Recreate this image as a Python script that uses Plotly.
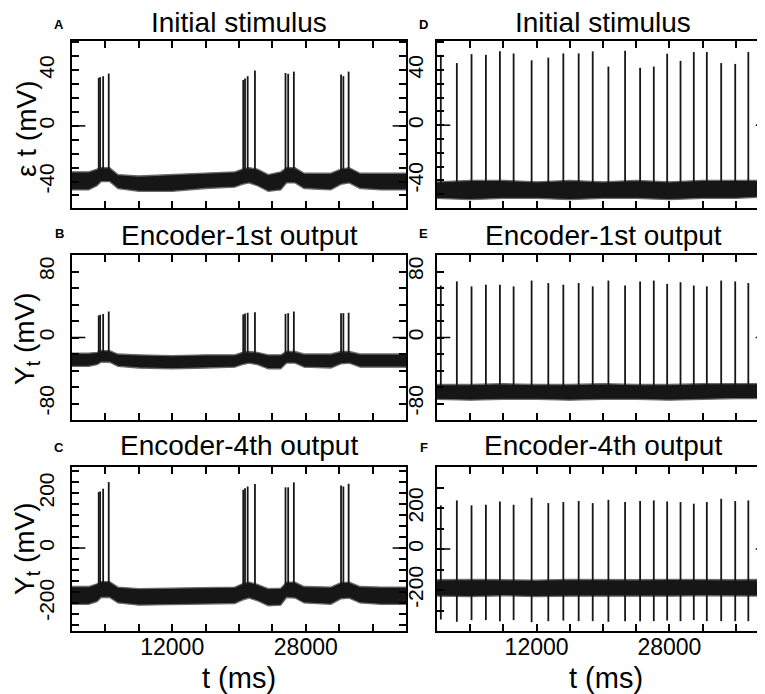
import plotly.graph_objects as go

# ---------------- data ----------------
t_env_left = [0, 2000, 3000, 3500, 4500, 5500, 8000, 12000, 16000, 19500, 20400, 21200,
              22200, 23500, 25000, 25700, 26700, 27800, 31000, 32200, 33200, 34500, 37000, 40000]
a_upper = [-33, -33, -31, -30, -30, -35, -36, -35, -34, -33, -31, -30,
           -31, -35, -33, -30, -30, -34, -34, -31, -30, -34, -34, -34]
a_lower = [-46, -46, -43, -40, -40, -45, -47, -47, -45, -44, -42, -41,
           -43, -47, -46, -41, -41, -45, -46, -42, -41, -45, -46, -46]
b_upper = [-19, -19, -18, -16, -16, -20, -21, -22, -21, -21, -18, -17,
           -18, -21, -21, -17, -17, -20, -20, -17, -17, -20, -20, -20]
b_lower = [-35, -35, -33, -30, -30, -35, -37, -38, -37, -36, -33, -31,
           -33, -38, -38, -31, -31, -36, -37, -32, -31, -36, -36, -36]
c_upper = [-140, -140, -130, -122, -122, -142, -148, -146, -144, -142, -130, -124,
           -132, -148, -146, -124, -124, -140, -142, -126, -124, -140, -142, -142]
c_lower = [-205, -205, -195, -180, -180, -200, -208, -206, -204, -202, -190, -182,
           -192, -210, -208, -180, -182, -200, -205, -185, -182, -200, -205, -205]

t_env_right = [0, 4000, 8000, 12000, 16000, 20000, 24000, 28000, 32000, 36000, 40000]
d_upper = [-41, -40, -40, -41, -40, -41, -40, -41, -40, -40, -40]
d_lower = [-53, -54, -53, -53, -54, -53, -53, -54, -53, -53, -52]
e_upper = [-57, -57, -56, -57, -57, -56, -57, -57, -56, -56, -56]
e_lower = [-75, -76, -75, -75, -76, -75, -75, -76, -75, -74, -74]
f_upper = [-150, -148, -150, -152, -148, -150, -150, -148, -150, -150, -148]
f_lower = [-230, -232, -228, -232, -230, -230, -232, -230, -228, -230, -230]

spike_t_left = [3200, 3370, 3730, 4400, 20510, 20720, 21040, 21910,
                25570, 25890, 26570, 32220, 32500, 33130]
a_peaks = [34.5, 35, 35.7, 37.6, 33, 34, 35.7, 39.8, 38, 37.4, 39, 37, 35.7, 39]
b_peaks = [26.7, 27.5, 28.5, 31.5, 28, 29, 30, 30.7, 28.7, 29.5, 31.5, 29.5, 29.5, 30]
c_peaks = [204, 206, 216, 240, 212, 218, 224, 233, 221, 221, 239, 228, 224, 234]

spike_t_right = [460, 2390, 4160, 5890, 7580, 9230, 11400, 13410, 15220, 17070, 18760, 20650,
                 22660, 24470, 26120, 27730, 29340, 30940, 32510, 34240, 35930, 37510, 39500]
d_peaks = [51, 45, 51.5, 51, 53.5, 52, 47, 49, 52, 52, 53.5, 42.5,
           54, 41.7, 42.5, 51.8, 46.6, 53, 53, 45, 44.4, 53, 51]
e_peaks = [63, 68, 62, 64, 64, 62, 69, 66, 64, 66, 62, 69,
           63, 68, 69, 65, 67, 63, 62, 69, 68, 66, 63]
f_peaks = [213, 237, 213, 216, 232, 216, 250, 224, 229, 234, 224, 240,
           229, 234, 237, 232, 229, 221, 229, 245, 234, 237, 210]
f_troughs = [-344, -355, -347, -347, -352, -347, -357, -352, -349, -352, -352, -355,
             -352, -352, -352, -349, -352, -347, -352, -352, -352, -352, -344]

x_tickvals = [4000, 8000, 12000, 16000, 20000, 24000, 28000, 32000, 36000]
x_ticktext = ["", "", "12000", "", "", "", "28000", "", ""]

titles = ["Initial stimulus", "Encoder-1st output", "Encoder-4th output"]
letters_left = ["A", "B", "C"]
letters_right = ["D", "E", "F"]

# ---------------- figure ----------------
W, H = 765, 694
FONT = "Arial, Liberation Sans, sans-serif"
INK = "#161616"

xdom_left = [64 / W, 398 / W]
xdom_right = [429 / W, 761 / W]
ydoms = [[1 - 200 / H, 1 - 33 / H], [1 - 412 / H, 1 - 247 / H], [1 - 623 / H, 1 - 459 / H]]

fig = go.Figure()

panels = [
    (1, 0, 0, t_env_left, a_upper, a_lower, spike_t_left, a_peaks, -38, [-59, 61], [-40, 0, 40], 10),
    (2, 0, 1, t_env_left, b_upper, b_lower, spike_t_left, b_peaks, -26, [-100, 100], [-80, 0, 80], 20),
    (3, 0, 2, t_env_left, c_upper, c_lower, spike_t_left, c_peaks, -160, [-302, 295], [-200, 0, 200], 40),
    (4, 1, 0, t_env_right, d_upper, d_lower, spike_t_right, d_peaks, -47, [-60, 61], [-40, 0, 40], 10),
    (5, 1, 1, t_env_right, e_upper, e_lower, spike_t_right, e_peaks, -66, [-100, 100], [-80, 0, 80], 20),
    (6, 1, 2, t_env_right, f_upper, f_lower, spike_t_right, f_peaks, f_troughs, [-400, 400], [-200, 0, 200], 100),
]

shapes = []
annotations = []
for idx, col, row, tenv, up, lo, st, pk, base, yr, major, mstep in panels:
    xa = "x" if idx == 1 else f"x{idx}"
    ya = "y" if idx == 1 else f"y{idx}"
    fig.add_trace(go.Scatter(x=tenv, y=up, xaxis=xa, yaxis=ya, mode="lines",
                             line=dict(color="#6a6a6a", width=1.3), hoverinfo="skip", showlegend=False))
    fig.add_trace(go.Scatter(x=tenv, y=lo, xaxis=xa, yaxis=ya, mode="lines", fill="tonexty",
                             fillcolor=INK, line=dict(color="#6a6a6a", width=1.3),
                             hoverinfo="skip", showlegend=False))
    xs, ys = [], []
    for i, t in enumerate(st):
        b0 = base[i] if isinstance(base, list) else base
        xs += [t, t, None]
        ys += [b0, pk[i], None]
    fig.add_trace(go.Scatter(x=xs, y=ys, xaxis=xa, yaxis=ya, mode="lines",
                             line=dict(color=INK, width=1.8), hoverinfo="skip", showlegend=False))

    xkey = "xaxis" if idx == 1 else f"xaxis{idx}"
    ykey = "yaxis" if idx == 1 else f"yaxis{idx}"
    minor_vals = [v for v in range(-1000, 1001, mstep) if yr[0] < v < yr[1] and v not in major]
    fig.update_layout({
        xkey: dict(domain=xdom_left if col == 0 else xdom_right, anchor=ya, range=[0, 40000],
                   tickvals=x_tickvals, ticktext=x_ticktext, showticklabels=(row == 2),
                   ticks="inside", ticklen=7, tickwidth=1.5, tickcolor="black",
                   ticklabelstandoff=-6,
                   showline=True, linecolor="black", linewidth=2, mirror="ticks",
                   showgrid=False, zeroline=False,
                   tickfont=dict(family=FONT, size=23, color="black")),
        ykey: dict(domain=ydoms[row], anchor=xa, range=yr,
                   tickvals=major, ticktext=[str(v) for v in major], tickangle=-90,
                   ticks="inside", ticklen=7, tickwidth=1.5, tickcolor="black",
                   ticklabelstandoff=8 if col == 0 else 4,
                   minor=dict(tickvals=minor_vals, ticks="inside", ticklen=7,
                              tickwidth=1.5, tickcolor="black"),
                   showline=True, linecolor="black", linewidth=2, mirror="ticks",
                   showgrid=False, zeroline=False,
                   tickfont=dict(family=FONT, size=21, color="black")),
    })
    for x0, x1 in [(0, 0.04), (0.96, 1)]:
        shapes.append(dict(type="line", xref=f"{xa} domain", yref=ya, x0=x0, x1=x1, y0=0, y1=0,
                           line=dict(color="black", width=1.5)))

title_mid_px = [14, 227, 437]
letter_px = [17, 225, 439]
for row in range(3):
    for col in range(2):
        xd = xdom_left if col == 0 else xdom_right
        annotations.append(dict(text=titles[row], xref="paper", yref="paper",
                                x=(xd[0] + xd[1]) / 2, y=1 - title_mid_px[row] / H,
                                xanchor="center", yanchor="middle", showarrow=False,
                                font=dict(family=FONT, size=28, color="black")))
        annotations.append(dict(text="<b>" + (letters_left if col == 0 else letters_right)[row] + "</b>",
                                xref="paper", yref="paper",
                                x=(51 if col == 0 else 416) / W, y=1 - letter_px[row] / H,
                                xanchor="center", yanchor="middle", showarrow=False,
                                font=dict(family=FONT, size=13, color="black")))

ytitles = ["ε t (mV)", "Y<sub>t</sub> (mV)", "Y<sub>t</sub> (mV)"]
ytitle_center_px = [121, 331, 541]
for row in range(3):
    annotations.append(dict(text=ytitles[row], xref="paper", yref="paper",
                            x=18 / W, y=1 - ytitle_center_px[row] / H, textangle=-90,
                            xanchor="center", yanchor="middle", showarrow=False,
                            font=dict(family=FONT, size=28, color="black")))
for cx in [231, 598]:
    annotations.append(dict(text="t (ms)", xref="paper", yref="paper",
                            x=cx / W, y=1 - 670 / H, xanchor="center", yanchor="middle",
                            showarrow=False, font=dict(family=FONT, size=29, color="black")))

fig.update_layout(width=W, height=H, margin=dict(l=0, r=0, t=0, b=0),
                  paper_bgcolor="white", plot_bgcolor="white",
                  shapes=shapes, annotations=annotations, showlegend=False)

fig.write_html("out.html")
